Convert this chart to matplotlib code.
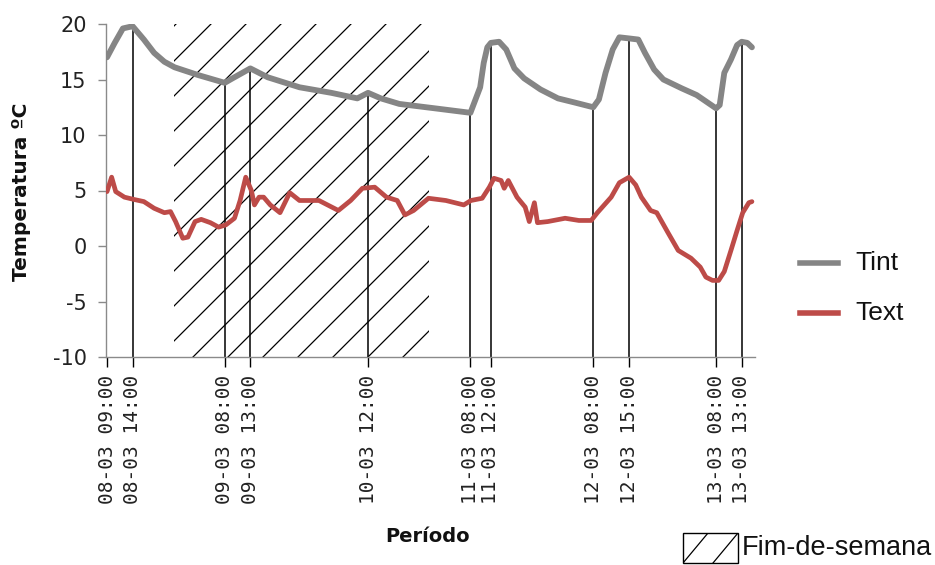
import numpy as np
import matplotlib
matplotlib.use("Agg")
import matplotlib.pyplot as plt
from matplotlib.lines import Line2D
from matplotlib.patches import Rectangle

# Hours elapsed since 08-03 09:00 and readings (ºC)
tint_hours = [0, 1.5, 3.1, 5, 7.2, 9.2, 11.2, 13.2, 17.8, 23, 24.5, 28, 31.4, 37.6,
              43.8, 48.9, 51, 53.5, 57.1, 64.1, 71, 72.9, 73.6, 74.3, 75, 76.6, 78,
              79.6, 81.5, 84.7, 88.1, 91.6, 95, 96.1, 97.4, 98.8, 100.1, 102, 103.8,
              105.1, 106.9, 108.7, 112.3, 115.2, 119, 119.7, 120.6, 121.9, 123.1,
              124, 125.1, 126]
tint_values = [17.0, 18.3, 19.6, 19.8, 18.6, 17.4, 16.6, 16.1, 15.4, 14.7, 15.1, 16.0,
               15.2, 14.3, 13.8, 13.3, 13.8, 13.3, 12.8, 12.4, 12.0, 14.3, 16.5, 17.9,
               18.3, 18.4, 17.7, 16.0, 15.1, 14.1, 13.3, 12.9, 12.5, 13.2, 15.6, 17.7,
               18.8, 18.7, 18.6, 17.4, 15.9, 15.0, 14.2, 13.6, 12.4, 12.7, 15.6, 16.8,
               18.1, 18.4, 18.3, 17.9]

text_hours = [0, 0.9, 1.7, 3.4, 5.2, 7.2, 9.2, 11.2, 12.4, 13.4, 14.8, 15.8, 17.2,
              18.4, 20.2, 21.8, 23.2, 24.9, 26.0, 27.1, 28.2, 28.8, 29.7, 30.6, 31.9,
              33.8, 35.7, 37.6, 41.4, 45.2, 47.6, 49.9, 52.3, 54.6, 56.7, 58.2, 59.9,
              62.8, 66.2, 69.7, 71.1, 73.3, 74.7, 75.6, 77.0, 77.6, 78.4, 80.1, 81.7,
              82.5, 83.5, 84.1, 86.1, 89.5, 92.2, 94.6, 95.8, 98.5, 100.1, 102, 103.3,
              104.4, 106.2, 107.4, 109.6, 111.6, 114.1, 115.9, 117.0, 118.3, 119.5,
              120.6, 121.9, 123.1, 124.2, 125.4, 126]
text_values = [4.9, 6.2, 4.9, 4.4, 4.2, 4.0, 3.4, 3.0, 3.1, 2.2, 0.7, 0.8, 2.2, 2.4,
               2.1, 1.7, 1.9, 2.5, 4.1, 6.2, 5.0, 3.7, 4.4, 4.4, 3.7, 3.0, 4.8, 4.1,
               4.1, 3.2, 4.1, 5.2, 5.3, 4.4, 4.1, 2.8, 3.2, 4.3, 4.1, 3.7, 4.1, 4.3,
               5.3, 6.1, 5.9, 5.2, 5.9, 4.4, 3.5, 2.2, 3.9, 2.1, 2.2, 2.5, 2.3, 2.3,
               3.0, 4.4, 5.7, 6.2, 5.5, 4.4, 3.2, 3.0, 1.2, -0.4, -1.1, -1.9, -2.8,
               -3.1, -3.1, -2.3, -0.4, 1.4, 3.0, 3.9, 4.0]

tick_labels = ["08-03 09:00", "08-03 14:00", "09-03 08:00", "09-03 13:00",
               "10-03 12:00", "11-03 08:00", "11-03 12:00", "12-03 08:00",
               "12-03 15:00", "13-03 08:00", "13-03 13:00"]
weekend = ("08-03 22:00", "11-03 00:00")
y_ticks = [-10, -5, 0, 5, 10, 15, 20]


def to_hours(stamp):
    day, clock = stamp.split(" ")
    return (int(day.split("-")[0]) - 8) * 24 + int(clock.split(":")[0]) - 9


tick_hours = [to_hours(s) for s in tick_labels]
wk_start, wk_end = (to_hours(s) for s in weekend)

W, H = 935, 565
fig = plt.figure(figsize=(W / 100, H / 100), dpi=100)
ax = fig.add_axes([106 / W, 1 - 357 / H, (755 - 106) / W, (357 - 24) / H])
ax.set_xlim(-0.2, 126.6)
ax.set_ylim(-10, 20)

TINT_C = "#858585"
TEXT_C = "#bd4b48"

# weekend hatching: 45° lines in screen space, clipped to the span
clip = Rectangle((wk_start, -10), wk_end - wk_start, 30, transform=ax.transData,
                 facecolor="none", edgecolor="none")
ax.add_patch(clip)
inv = ax.transData.inverted()
_, yb = ax.transData.transform((0, -10))
_, yt = ax.transData.transform((0, 20))
span_h = yt - yb
for c in np.arange(193 - 35 * 12, 460, 35):
    p = inv.transform([(c, yb), (c + span_h, yt)])
    ln, = ax.plot(p[:, 0], p[:, 1], color="black", lw=0.9, zorder=1)
    ln.set_clip_path(clip)

# drop lines from the axis up to the indoor curve
drop_x = tick_hours[1:]
drop_top = np.interp(drop_x, tint_hours, tint_values)
ax.vlines(drop_x, -10, drop_top, color="black", lw=1.1, zorder=2)

ax.plot(tint_hours, tint_values, color=TINT_C, lw=4.2, solid_joinstyle="round",
        solid_capstyle="round", zorder=3)
ax.plot(text_hours, text_values, color=TEXT_C, lw=3.4, solid_joinstyle="round",
        solid_capstyle="round", zorder=3)

for s in ("top", "right"):
    ax.spines[s].set_visible(False)
for s in ("left", "bottom"):
    ax.spines[s].set_color("#8a8a8a")
    ax.spines[s].set_linewidth(1.0)

ax.set_yticks(y_ticks)
ax.set_yticklabels([str(v) for v in y_ticks])
ax.tick_params(axis="y", direction="out", length=6, width=1, color="#8a8a8a",
               pad=8, labelsize=15, labelcolor="#222222")
ax.set_xticks(tick_hours)
ax.set_xticklabels(tick_labels, rotation=90, family="DejaVu Sans Mono")
ax.tick_params(axis="x", direction="out", length=7.5, width=1, color="black",
               pad=5, labelsize=14, labelcolor="#222222")

fig.text(22 / W, 1 - 192 / H, "Temperatura ºC", rotation=90, ha="center", va="center",
         fontsize=14.5, fontweight="bold", color="#111111")
fig.text(428 / W, 1 - 536 / H, "Período", ha="center", va="center",
         fontsize=14, fontweight="bold", color="#111111")

# legend
for yy, col, lab in ((263, TINT_C, "Tint"), (313, TEXT_C, "Text")):
    fig.add_artist(Line2D([800 / W, 838 / W], [1 - yy / H, 1 - yy / H],
                          color=col, lw=4.0, transform=fig.transFigure))
    fig.text(855 / W, 1 - yy / H, lab, ha="left", va="center", fontsize=19,
             family="Liberation Sans", color="#111111")

box = Rectangle((683 / W, 1 - 563 / H), 55 / W, 30 / H, transform=fig.transFigure,
                facecolor="white", edgecolor="black", lw=1.0)
fig.add_artist(box)
for x0 in (683, 713):
    hl = Line2D([x0 / W, (x0 + 25) / W], [1 - 563 / H, 1 - 533 / H],
                color="black", lw=0.9, transform=fig.transFigure)
    hl.set_clip_path(box)
    fig.add_artist(hl)
fig.text(742 / W, 1 - 548 / H, "Fim-de-semana", ha="left", va="center", fontsize=19.5,
         family="Liberation Sans", color="#111111")

fig.savefig("out.png", dpi=100, facecolor="white")
